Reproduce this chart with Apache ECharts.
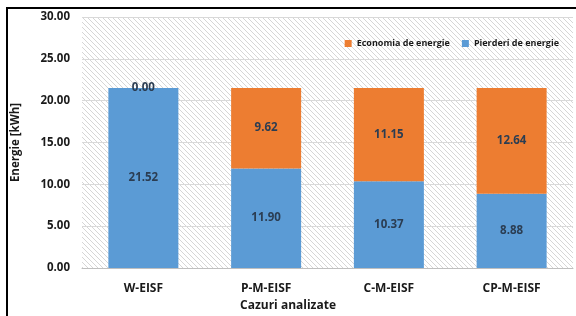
<!DOCTYPE html>
<html>
<head>
<meta charset="utf-8">
<script src="https://cdn.jsdelivr.net/npm/echarts@6/dist/echarts.min.js"></script>
<style>
html,body{margin:0;padding:0;background:#fff;}
#c{width:576px;height:316px;}
</style>
</head>
<body>
<div id="c"></div>
<script>
const categories = ['W-EISF', 'P-M-EISF', 'C-M-EISF', 'CP-M-EISF'];
const pierderi = [21.52, 11.90, 10.37, 8.88];
const economia = [0.00, 9.62, 11.15, 12.64];
const yTicks = [0, 5, 10, 15, 20, 25, 30];

const FONT = '"Open Sans", "Noto Sans", sans-serif';

// hatch pattern
const pc = document.createElement('canvas');
const S = 5;
pc.width = S; pc.height = S;
const g = pc.getContext('2d');
g.fillStyle = '#ffffff';
g.fillRect(0, 0, S, S);
g.strokeStyle = '#d6d6d6';
g.lineWidth = 1;
g.beginPath();
g.moveTo(-1, -1); g.lineTo(S + 1, S + 1);
g.moveTo(-1, S - 1); g.lineTo(1, S + 1);
g.moveTo(S - 1, -1); g.lineTo(S + 1, 1);
g.stroke();

const chart = echarts.init(document.getElementById('c'), null, {renderer: 'canvas'});
const labelStyle = {
  show: true,
  position: 'inside',
  color: '#2b3d52',
  fontFamily: FONT,
  fontWeight: 'bold',
  fontSize: 11.5,
  formatter: p => Number(p.value).toFixed(2)
};
chart.setOption({
  animation: false,
  backgroundColor: '#ffffff',
  grid: {
    left: 82, right: 3, top: 17, bottom: 48,
    show: true,
    backgroundColor: {image: pc, repeat: 'repeat'},
    borderWidth: 0
  },
  legend: {
    data: ['Economia de energie', 'Pierderi de energie'],
    top: 34, right: 12,
    itemWidth: 7, itemHeight: 7, itemGap: 12,
    icon: 'rect',
    textStyle: {fontFamily: FONT, fontWeight: 'bold', fontSize: 9, color: '#1a1a1a'}
  },
  xAxis: {
    type: 'category',
    data: categories,
    axisTick: {show: false},
    axisLine: {lineStyle: {color: '#bfbfbf'}},
    axisLabel: {fontFamily: FONT, fontWeight: 'bold', fontSize: 12, color: '#1a1a1a', margin: 15}
  },
  yAxis: {
    type: 'value',
    min: yTicks[0], max: yTicks[yTicks.length - 1], interval: 5,
    name: 'Energie [kWh]',
    nameLocation: 'middle',
    nameGap: 60,
    nameTextStyle: {fontFamily: FONT, fontWeight: 'bold', fontSize: 11.5, color: '#1a1a1a'},
    axisLine: {show: false},
    axisTick: {show: false},
    splitLine: {lineStyle: {color: '#d9d9d9'}},
    axisLabel: {fontFamily: FONT, fontWeight: 'bold', fontSize: 11.5, color: '#1a1a1a', margin: 12,
      formatter: v => v.toFixed(2)}
  },
  graphic: [
    {type: 'polyline', shape: {points: [[7, 320], [7, 8], [580, 8]]},
     style: {stroke: '#000', lineWidth: 2, fill: null}, z: 100},
    {type: 'text', left: 'center', top: 300,
     style: {text: 'Cazuri analizate', fontFamily: FONT, fontWeight: 'bold', fontSize: 12, fill: '#1a1a1a'}}
  ],
  series: [
    {name: 'Pierderi de energie', type: 'bar', stack: 'e', data: pierderi, barWidth: 70,
     itemStyle: {color: '#5b9bd5'}, label: labelStyle},
    {name: 'Economia de energie', type: 'bar', stack: 'e', data: economia, barWidth: 70,
     itemStyle: {color: '#ed7d31'}, label: labelStyle}
  ]
});
</script>
</body>
</html>
